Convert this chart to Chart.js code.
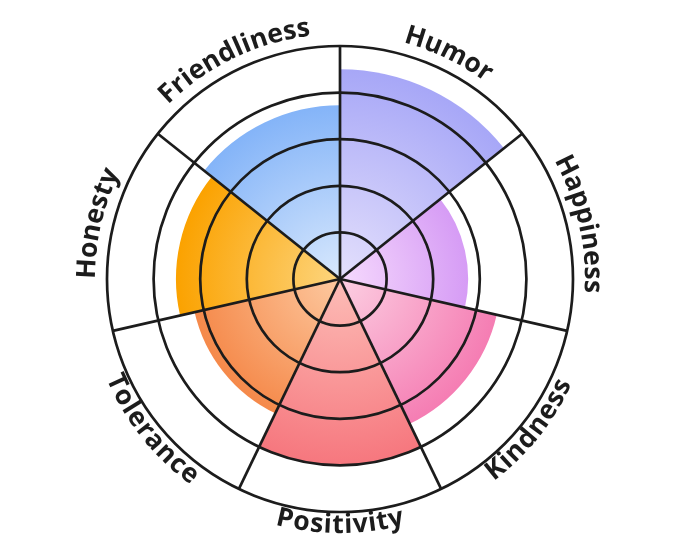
<!DOCTYPE html>
<html>
<head>
<meta charset="utf-8">
<script src="https://cdn.jsdelivr.net/npm/chart.js@4.4.1/dist/chart.umd.min.js"></script>
<style>
  html, body { margin: 0; padding: 0; background: #ffffff; }
  #wrap { width: 680px; height: 557px; position: relative; }
</style>
</head>
<body>
<div id="wrap"><canvas id="polarchart"></canvas></div>
<script>
// traits, clockwise from the top
var traitLabels = ['Humor', 'Happiness', 'Kindness', 'Positivity', 'Tolerance', 'Honesty', 'Friendliness'];
var traitScores = [4.5, 2.75, 3.45, 4.0, 3.2, 3.52, 3.73];
var scaleMax = 5;
var scaleStep = 1;

// gradient colours per slice (centre -> edge)
var innerColors = ['#e4e0fc', '#f6dafd', '#fccfe2', '#fdbdb7', '#fdc9a0', '#fdd57e', '#d8e8fd'];
var outerColors = ['#a7a7f7', '#d69cf5', '#f57db3', '#f6777e', '#f5894a', '#fba200', '#84b4f8'];

var lineColor = '#1c1c1c';

function sliceFill(context) {
    var chart = context.chart;
    var scale = chart.scales.r;
    var i = context.dataIndex;
    if (!chart.chartArea || !scale || context.type !== 'data') {
        return outerColors[i];
    }
    var r = scale.getDistanceFromCenterForValue(traitScores[i]);
    var g = chart.ctx.createRadialGradient(scale.xCenter, scale.yCenter, 0, scale.xCenter, scale.yCenter, r);
    g.addColorStop(0, innerColors[i]);
    g.addColorStop(1, outerColors[i]);
    return g;
}

// labels bent along the outer ring
var curvedLabels = {
    id: 'curvedLabels',
    afterDraw: function(chart) {
        var scale = chart.scales.r;
        var ctx = chart.ctx;
        var R = scale.getDistanceFromCenterForValue(scaleMax);
        var step = 2 * Math.PI / traitLabels.length;
        ctx.save();
        ctx.font = '700 26.5px "Open Sans"';
        ctx.fillStyle = lineColor;
        ctx.textAlign = 'center';
        ctx.textBaseline = 'alphabetic';
        traitLabels.forEach(function(label, i) {
            var mid = (i + 0.5) * step;
            var outward = Math.cos(mid) > 0;
            var base = outward ? R + 12 : R + 21;
            var rText = outward ? base + 7 : base - 7;
            var chars = label.split('');
            var widths = chars.map(function(c) { return ctx.measureText(c).width + 0.5; });
            var total = widths.reduce(function(a, b) { return a + b; }, 0) / rText;
            var a = outward ? mid - total / 2 : mid + total / 2;
            chars.forEach(function(c, k) {
                var half = widths[k] / 2 / rText;
                ctx.save();
                ctx.translate(scale.xCenter, scale.yCenter);
                if (outward) {
                    a += half;
                    ctx.rotate(a);
                    ctx.fillText(c, 0, -base);
                    a += half;
                } else {
                    a -= half;
                    ctx.rotate(a - Math.PI);
                    ctx.fillText(c, 0, base);
                    a -= half;
                }
                ctx.restore();
            });
        });
        ctx.restore();
    }
};

var chart = new Chart(document.getElementById('polarchart'), {
    type: 'polarArea',
    data: {
        labels: traitLabels,
        datasets: [{
            data: traitScores,
            backgroundColor: sliceFill,
            borderWidth: 0
        }]
    },
    options: {
        responsive: true,
        maintainAspectRatio: false,
        animation: false,
        layout: { padding: { top: 46, bottom: 45, left: 107, right: 107 } },
        plugins: {
            legend: { display: false },
            tooltip: { enabled: false }
        },
        scales: {
            r: {
                min: 0,
                max: scaleMax,
                ticks: { display: false, stepSize: scaleStep },
                grid: { z: 1, circular: true, color: lineColor, lineWidth: 2.7 },
                angleLines: { display: true, color: lineColor, lineWidth: 2.7 },
                pointLabels: { display: false }
            }
        }
    },
    plugins: [curvedLabels]
});
</script>
</body>
</html>
